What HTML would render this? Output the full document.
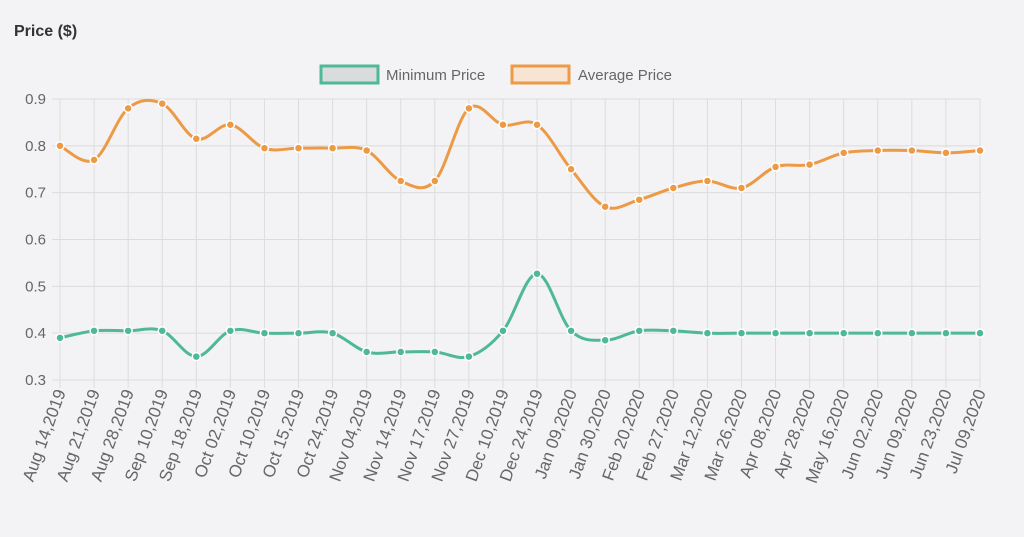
<!DOCTYPE html>
<html><head><meta charset="utf-8"><style>
body{margin:0;background:#f3f3f5;font-family:"Liberation Sans",sans-serif;}
svg{display:block}
</style></head><body>
<svg id="c" width="1024" height="537">
<rect width="1024" height="537" fill="#f3f3f5"/>
<text x="14" y="36" font-size="16" font-weight="bold" fill="#333">Price ($)</text>
<g>
<rect x="321" y="66" width="57" height="17" fill="#d9dcdd" stroke="#4fb896" stroke-width="3"/>
<text x="386" y="80" font-size="15" fill="#666">Minimum Price</text>
<rect x="512" y="66" width="57" height="17" fill="#f7e4d2" stroke="#ec9a45" stroke-width="3"/>
<text x="578" y="80" font-size="15" fill="#666">Average Price</text>
</g>
<g id="grid"></g><g id="series"></g><g id="labels"></g>
</svg>
<script>
const categories=["Aug 14,2019","Aug 21,2019","Aug 28,2019","Sep 10,2019","Sep 18,2019","Oct 02,2019","Oct 10,2019","Oct 15,2019","Oct 24,2019","Nov 04,2019","Nov 14,2019","Nov 17,2019","Nov 27,2019","Dec 10,2019","Dec 24,2019","Jan 09,2020","Jan 30,2020","Feb 20,2020","Feb 27,2020","Mar 12,2020","Mar 26,2020","Apr 08,2020","Apr 28,2020","May 16,2020","Jun 02,2020","Jun 09,2020","Jun 23,2020","Jul 09,2020"];
const avgPrice=[0.80,0.77,0.88,0.89,0.815,0.845,0.795,0.795,0.795,0.79,0.725,0.725,0.88,0.845,0.845,0.75,0.67,0.685,0.71,0.725,0.71,0.755,0.76,0.785,0.79,0.79,0.785,0.79];
const minPrice=[0.39,0.405,0.405,0.405,0.35,0.405,0.40,0.40,0.40,0.36,0.36,0.36,0.35,0.405,0.527,0.405,0.385,0.405,0.405,0.40,0.40,0.40,0.40,0.40,0.40,0.40,0.40,0.40];
const yTicks=[0.3,0.4,0.5,0.6,0.7,0.8,0.9];
const NS="http://www.w3.org/2000/svg";
const x0=60,x1=980,yTop=99,yBot=380,yMin=0.3,yMax=0.9;
const xS=i=>x0+i*(x1-x0)/(categories.length-1);
const yS=v=>yBot-(v-yMin)/(yMax-yMin)*(yBot-yTop);
function mk(t,a,p){const e=document.createElementNS(NS,t);for(const k in a)e.setAttribute(k,a[k]);p.appendChild(e);return e;}
const g=document.getElementById('grid'),s=document.getElementById('series'),lb=document.getElementById('labels');
yTicks.forEach(v=>{
 const l=mk('line',{x1:x0-8,x2:x1,y1:yS(v),y2:yS(v),stroke:'#dcdcdc'},g);
 
 
 const t=mk('text',{x:x0-14,y:yS(v)+5,'font-size':15,fill:'#666','text-anchor':'end'},lb);
 t.textContent=v.toFixed(1);
 
 
});
categories.forEach((c,i)=>{
 const l=mk('line',{x1:xS(i),x2:xS(i),y1:yTop,y2:yBot+8,stroke:'#dcdcdc'},g);
 
 
 const t=mk('text',{x:0,y:0,'font-size':17,fill:'#666','text-anchor':'end',transform:`translate(${xS(i)+6},${yBot+12}) rotate(-70)`},lb);
 t.textContent=c;
 
 
});
function path(vals){
 const p=vals.map((v,i)=>[xS(i),yS(v)]);const k=0.4/2*0.85;
 let d=`M${p[0][0]},${p[0][1]}`;
 for(let i=0;i<p.length-1;i++){
  const a=p[i-1]||p[i],b=p[i],c=p[i+1],e=p[i+2]||c;
  d+=`C${b[0]+(c[0]-a[0])*k},${b[1]+(c[1]-a[1])*k} ${c[0]-(e[0]-b[0])*k},${c[1]-(e[1]-b[1])*k} ${c[0]},${c[1]}`;
 }return d;
}
[[avgPrice,'#ec9a45','avg'],[minPrice,'#4fb896','min']].forEach(([vals,col,n])=>{
 const pa=mk('path',{d:path(vals),fill:'none',stroke:col,'stroke-width':3},s);
 
 
 vals.forEach((v,i)=>{
  const c=mk('circle',{cx:xS(i),cy:yS(v),r:4,fill:col,stroke:'#fff','stroke-width':1.5},s);
  
  
 });
});
</script>
</body></html>
